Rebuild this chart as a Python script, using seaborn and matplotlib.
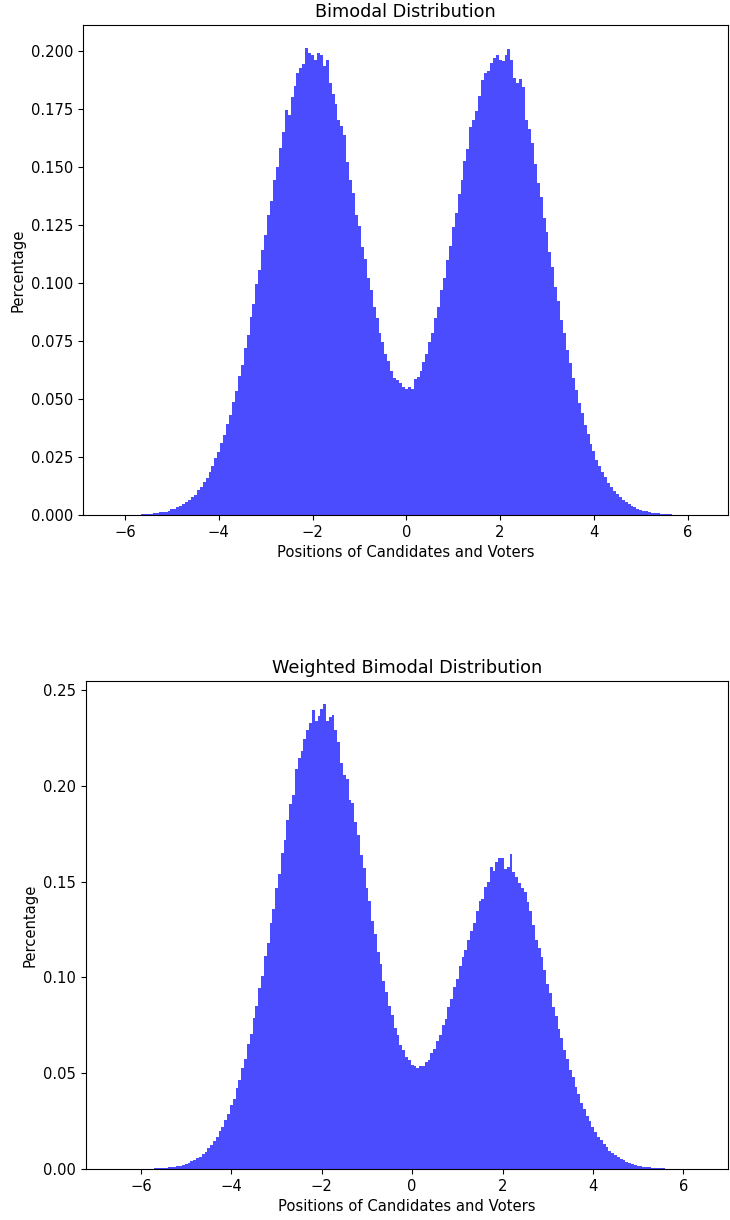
import numpy as np
import pandas as pd
import matplotlib
matplotlib.use("Agg")
import matplotlib.pyplot as plt
import seaborn as sns

# histogram bins (200 bins of width 0.0625)
bin_start = -6.21875
bin_width = 0.0625
n_bins = 200

# bar heights
bimodal_density = [
    0.0000, 0.0000, 0.0001, 0.0001, 0.0001, 0.0001, 0.0002, 0.0002, 0.0002, 0.0003,
    0.0004, 0.0004, 0.0006, 0.0007, 0.0008, 0.0011, 0.0013, 0.0015, 0.0019, 0.0024,
    0.0027, 0.0034, 0.0039, 0.0046, 0.0056, 0.0064, 0.0078, 0.0088, 0.0106, 0.0120,
    0.0142, 0.0159, 0.0187, 0.0210, 0.0244, 0.0271, 0.0312, 0.0345, 0.0393, 0.0432,
    0.0489, 0.0533, 0.0598, 0.0648, 0.0720, 0.0776, 0.0853, 0.0912, 0.0996, 0.1058,
    0.1145, 0.1207, 0.1295, 0.1356, 0.1444, 0.1502, 0.1585,
    0.1651, 0.1749, 0.1725, 0.1801, 0.1849, 0.1908, 0.1930, 0.1944, 0.2013, 0.1994,
    0.1983, 0.1962, 0.1991, 0.1983, 0.1937, 0.1961, 0.1865, 0.1817, 0.1771, 0.1706,
    0.1677, 0.1641,
    0.1524, 0.1443, 0.1387, 0.1296, 0.1245, 0.1158, 0.1104, 0.1021, 0.0972, 0.0896,
    0.0851, 0.0785, 0.0748, 0.0693, 0.0664, 0.0621,
    0.0590, 0.0583, 0.0569, 0.0554, 0.0543, 0.0554, 0.0543, 0.0586, 0.0597, 0.0619,
    0.0662, 0.0695, 0.0748, 0.0787, 0.0851, 0.0898, 0.0970, 0.1024, 0.1102, 0.1160,
    0.1243, 0.1301, 0.1386, 0.1444, 0.1526, 0.1580,
    0.1673, 0.1703, 0.1742, 0.1807, 0.1876, 0.1908, 0.1914, 0.1951, 0.1970, 0.1983,
    0.1962, 0.1958, 0.1984, 0.2009, 0.1962, 0.1886, 0.1865, 0.1879, 0.1847, 0.1706,
    0.1666, 0.1605,
    0.1515, 0.1431, 0.1370, 0.1283, 0.1220, 0.1133, 0.1069, 0.0985, 0.0921, 0.0843,
    0.0783, 0.0711, 0.0655, 0.0590, 0.0540, 0.0482, 0.0438, 0.0388, 0.0349, 0.0307,
    0.0275, 0.0239, 0.0213, 0.0184, 0.0162, 0.0139, 0.0122, 0.0104, 0.0090, 0.0076,
    0.0066, 0.0054, 0.0047, 0.0039, 0.0033, 0.0027, 0.0023, 0.0019, 0.0016, 0.0013,
    0.0010, 0.0009, 0.0007, 0.0005, 0.0005, 0.0003, 0.0003, 0.0002, 0.0002, 0.0001,
    0.0001, 0.0001, 0.0001, 0.0000, 0.0000, 0.0000, 0.0000,
]

# bar heights
weighted_density = [
    0.0000, 0.0001, 0.0001, 0.0001, 0.0001, 0.0001, 0.0002, 0.0002, 0.0003, 0.0004,
    0.0004, 0.0005, 0.0007, 0.0008, 0.0011, 0.0012, 0.0016, 0.0018, 0.0023, 0.0028,
    0.0033, 0.0041, 0.0046, 0.0057, 0.0065, 0.0080, 0.0090, 0.0109, 0.0123, 0.0148,
    0.0166, 0.0196, 0.0219, 0.0257, 0.0286, 0.0332, 0.0366, 0.0421, 0.0463, 0.0528,
    0.0576, 0.0651, 0.0705, 0.0790, 0.0850, 0.0943, 0.1009, 0.1110, 0.1179, 0.1286,
    0.1356, 0.1468, 0.1538, 0.1647, 0.1716, 0.1822,
    0.1903, 0.1952, 0.2088, 0.2147, 0.2182, 0.2244, 0.2291, 0.2329, 0.2396, 0.2340,
    0.2366, 0.2399, 0.2425, 0.2340, 0.2361, 0.2370, 0.2288, 0.2230, 0.2121, 0.2056,
    0.2034, 0.1926,
    0.1911, 0.1809, 0.1742, 0.1640, 0.1571, 0.1466, 0.1396, 0.1294, 0.1226, 0.1131,
    0.1068, 0.0980, 0.0924, 0.0849, 0.0801, 0.0736, 0.0697, 0.0648, 0.0619, 0.0582,
    0.0567, 0.0541, 0.0539, 0.0526, 0.0537, 0.0535, 0.0560, 0.0570, 0.0604, 0.0624,
    0.0669, 0.0697, 0.0750, 0.0785, 0.0845, 0.0886, 0.0950, 0.0993, 0.1061, 0.1104,
    0.1143, 0.1195, 0.1244, 0.1282, 0.1348, 0.1399, 0.1409, 0.1470, 0.1496, 0.1578,
    0.1555, 0.1601, 0.1622, 0.1622, 0.1564, 0.1578, 0.1642, 0.1552, 0.1526, 0.1491,
    0.1468, 0.1444, 0.1395, 0.1348, 0.1273, 0.1195, 0.1152, 0.1108,
    0.1037, 0.0965, 0.0917, 0.0846, 0.0797, 0.0729, 0.0683, 0.0619, 0.0576, 0.0518,
    0.0478, 0.0427, 0.0391, 0.0345, 0.0314, 0.0276, 0.0249, 0.0217, 0.0194, 0.0168,
    0.0149, 0.0128, 0.0113, 0.0096, 0.0085, 0.0071, 0.0062, 0.0051, 0.0045, 0.0036,
    0.0032, 0.0025, 0.0022, 0.0018, 0.0015, 0.0012, 0.0010, 0.0008, 0.0007, 0.0005,
    0.0004, 0.0004, 0.0003, 0.0002, 0.0002, 0.0001, 0.0001, 0.0001, 0.0001, 0.0000,
    0.0000, 0.0000, 0.0000, 0.0000,
]

titles = ["Bimodal Distribution", "Weighted Bimodal Distribution"]
x_label = "Positions of Candidates and Voters"
y_label = "Percentage"

assert len(bimodal_density) == n_bins and len(weighted_density) == n_bins

plt.rcParams["font.size"] = 10.6
plt.rcParams["axes.titlesize"] = 12.7

centers = bin_start + bin_width * (np.arange(n_bins) + 0.5)
bin_range = (bin_start, bin_start + bin_width * n_bins)

fig = plt.figure(figsize=(7.3, 12.2), dpi=100)
W, H = 730, 1220
ax1 = fig.add_axes([83 / W, 1 - 515 / H, (728 - 83) / W, (515 - 25) / H])
ax2 = fig.add_axes([86 / W, 1 - 1169 / H, (728 - 86) / W, (1169 - 681) / H])

panels = [
    (ax1, bimodal_density, (-6.896, 6.86)),
    (ax2, weighted_density, (-7.217, 6.99)),
]
for (ax, heights, xlim), title in zip(panels, titles):
    df = pd.DataFrame({"position": centers, "height": heights})
    sns.histplot(data=df, x="position", weights="height", bins=n_bins,
                 binrange=bin_range, stat="count", color="blue", alpha=0.7,
                 linewidth=0, edgecolor="none", ax=ax)
    ax.set_xlim(*xlim)
    ax.set_title(title)
    ax.set_xlabel(x_label)
    ax.set_ylabel(y_label)

fig.savefig("out.png", dpi=100)
